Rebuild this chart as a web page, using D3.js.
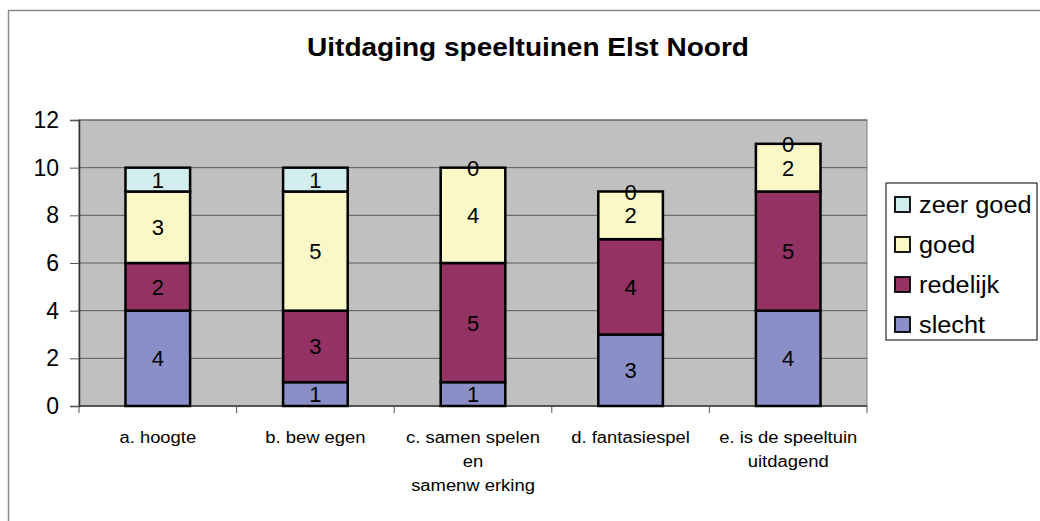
<!DOCTYPE html>
<html>
<head>
<meta charset="utf-8">
<script src="https://cdn.jsdelivr.net/npm/d3@7"></script>
<style>
  body { margin: 0; background: #fff; }
  svg { display: block; font-family: Arial, "Liberation Sans", sans-serif; }
</style>
</head>
<body>
<svg id="chart" width="1040" height="521"></svg>
<script>
const title = "Uitdaging speeltuinen Elst Noord";
const categories = [
  ["a. hoogte"],
  ["b. bew egen"],
  ["c. samen spelen", "en", "samenw erking"],
  ["d. fantasiespel"],
  ["e. is de speeltuin", "uitdagend"]
];
const seriesNames = ["slecht", "redelijk", "goed", "zeer goed"];
const slecht   = [4, 1, 1, 3, 4];
const redelijk = [2, 3, 5, 4, 5];
const goed     = [3, 5, 4, 2, 2];
const zeerGoed = [1, 1, 0, 0, 0];
const yTicks = [0, 2, 4, 6, 8, 10, 12];
const colors = ["#8b8fc8", "#943264", "#fbf8c8", "#d2eded"];

const seriesValues = [slecht, redelijk, goed, zeerGoed];
const table = categories.map((c, i) => {
  const row = { idx: i };
  seriesNames.forEach((s, j) => row[s] = seriesValues[j][i]);
  return row;
});
const stacked = d3.stack().keys(seriesNames)(table);

function stretch(sel, f) {
  sel.each(function () {
    const len = this.getComputedTextLength();
    d3.select(this).attr("textLength", len * f).attr("lengthAdjust", "spacingAndGlyphs");
  });
}

const svg = d3.select("#chart");
const margin = { left: 79, right: 867, top: 120, bottom: 406 };

// outer border (top & left visible)
svg.append("rect").attr("x", 8.5).attr("y", 10.5).attr("width", 1100).attr("height", 600)
  .attr("fill", "none").attr("stroke", "#8a8a8a").attr("stroke-width", 1.5);

const t = svg.append("text").attr("x", 528).attr("y", 56).attr("text-anchor", "middle")
  .attr("font-size", 25).attr("font-weight", "bold").attr("fill", "#000").text(title);
stretch(t, 1.12);

const x = d3.scaleBand().domain(d3.range(categories.length))
  .range([margin.left, margin.right]).paddingInner(0.59).paddingOuter(0.295);
const xOuter = d3.scaleBand().domain(d3.range(categories.length))
  .range([margin.left, margin.right]);
const y = d3.scaleLinear().domain([0, 12]).range([margin.bottom, margin.top]);

// plot area
svg.append("rect").attr("x", margin.left).attr("y", margin.top)
  .attr("width", margin.right - margin.left).attr("height", margin.bottom - margin.top)
  .attr("fill", "#c0c0c0").attr("stroke", "#808080").attr("stroke-width", 1);

// gridlines
svg.append("g").selectAll("line").data(yTicks.filter(t => t > 0)).join("line")
  .attr("x1", margin.left).attr("x2", margin.right)
  .attr("y1", d => y(d)).attr("y2", d => y(d))
  .attr("stroke", "#5a5a5a").attr("stroke-width", 1);

// y axis
const yAxis = svg.append("g").attr("transform", `translate(${margin.left},0)`)
  .call(d3.axisLeft(y).tickValues(yTicks).tickSize(9).tickPadding(11).tickFormat(d3.format("d")));
yAxis.select(".domain").attr("stroke", "#333").attr("stroke-width", 1.5);
yAxis.selectAll(".tick line").attr("stroke", "#555");
yAxis.selectAll("text").attr("font-size", 23).attr("fill", "#000")
  .attr("font-family", "Arial, 'Liberation Sans', sans-serif");

// x axis
const xAxisG = svg.append("g").attr("transform", `translate(0,${margin.bottom})`);
xAxisG.append("line").attr("x1", margin.left).attr("x2", margin.right)
  .attr("y1", 0).attr("y2", 0).attr("stroke", "#333").attr("stroke-width", 1.5);
const bounds = d3.range(categories.length + 1).map(i =>
  i < categories.length ? xOuter(i) : xOuter(i - 1) + xOuter.bandwidth());
xAxisG.selectAll(".tk").data(bounds).join("line").attr("class", "tk")
  .attr("x1", d => d).attr("x2", d => d).attr("y1", 0).attr("y2", 7)
  .attr("stroke", "#555");
const xl = xAxisG.selectAll(".xl").data(categories).join("text").attr("class", "xl")
  .attr("text-anchor", "middle").attr("font-size", 16).attr("fill", "#000")
  .attr("transform", (d, i) => `translate(${xOuter(i) + xOuter.bandwidth() / 2},37)`);
const tsp = xl.selectAll("tspan").data(d => d).join("tspan")
  .attr("x", 0).attr("dy", (d, i) => i === 0 ? 0 : 24).text(d => d);
stretch(tsp, 1.15);

// bars
const layers = svg.append("g").selectAll("g").data(stacked).join("g")
  .attr("fill", (d, i) => colors[i]);
layers.selectAll("rect").data(d => d).join("rect")
  .attr("x", (d, i) => x(i)).attr("width", x.bandwidth())
  .attr("y", d => y(d[1])).attr("height", d => y(d[0]) - y(d[1]))
  .attr("stroke", "#000").attr("stroke-width", 2.5);

// labels
const lbl = svg.append("g");
stacked.forEach(s => {
  s.forEach((d, i) => {
    const v = d[1] - d[0];
    lbl.append("text").attr("x", x(i) + x.bandwidth() / 2)
      .attr("y", y((d[0] + d[1]) / 2) + 8)
      .attr("text-anchor", "middle").attr("font-size", 22).attr("fill", "#000")
      .text(v);
  });
});

// legend
const lg = svg.append("g");
lg.append("rect").attr("x", 886).attr("y", 183).attr("width", 151).attr("height", 157)
  .attr("fill", "#fff").attr("stroke", "#000").attr("stroke-width", 1);
const legendOrder = seriesNames.slice().reverse();
legendOrder.forEach((name, k) => {
  const ci = seriesNames.indexOf(name);
  const yy = 205 + k * 40;
  lg.append("rect").attr("x", 895).attr("y", yy - 8).attr("width", 15).attr("height", 15)
    .attr("fill", colors[ci]).attr("stroke", "#000").attr("stroke-width", 1.8);
  const lt = lg.append("text").attr("x", 919).attr("y", yy + 8).attr("font-size", 23).attr("fill", "#000")
    .text(name);
  stretch(lt, 1.1);
});
</script>
</body>
</html>
